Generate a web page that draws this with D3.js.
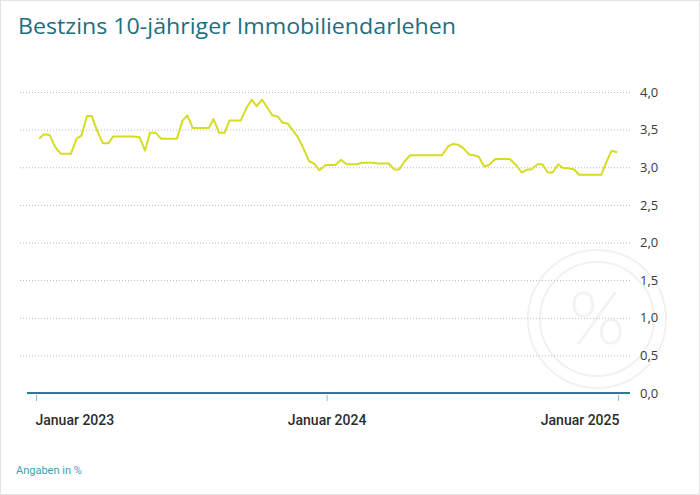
<!DOCTYPE html>
<html><head><meta charset="utf-8">
<script src="https://cdn.jsdelivr.net/npm/d3@7"></script>
<style>body{margin:0;background:#fff}svg{display:block}</style>
</head><body>
<svg id="c" width="700" height="495"></svg>
<script>
const title = "Bestzins 10-jähriger Immobiliendarlehen";
const note = "Angaben in %";
const dates = ["2023-01-05","2023-01-11","2023-01-18","2023-01-25","2023-02-01","2023-02-14","2023-02-21","2023-02-27","2023-03-06","2023-03-12","2023-03-19","2023-03-26","2023-04-02","2023-04-08","2023-05-03","2023-05-11","2023-05-18","2023-05-24","2023-05-31","2023-06-07","2023-06-27","2023-07-04","2023-07-10","2023-07-17","2023-08-06","2023-08-12","2023-08-19","2023-08-26","2023-09-01","2023-09-15","2023-09-22","2023-09-29","2023-10-05","2023-10-12","2023-10-18","2023-10-25","2023-11-01","2023-11-07","2023-11-13","2023-11-19","2023-11-26","2023-12-03","2023-12-10","2023-12-17","2023-12-23","2023-12-31","2024-01-12","2024-01-19","2024-01-26","2024-02-08","2024-02-14","2024-02-28","2024-03-06","2024-03-19","2024-03-26","2024-04-01","2024-04-08","2024-04-15","2024-05-25","2024-06-02","2024-06-08","2024-06-14","2024-06-21","2024-06-28","2024-07-04","2024-07-10","2024-07-17","2024-07-23","2024-07-31","2024-08-18","2024-08-26","2024-09-02","2024-09-09","2024-09-14","2024-09-22","2024-09-28","2024-10-05","2024-10-11","2024-10-18","2024-10-24","2024-10-29","2024-11-07","2024-11-13","2024-12-11","2024-12-17","2024-12-24","2024-12-31"];
const rates = [3.38,3.44,3.43,3.27,3.18,3.18,3.38,3.42,3.68,3.68,3.48,3.32,3.32,3.41,3.41,3.40,3.22,3.46,3.46,3.38,3.38,3.62,3.69,3.52,3.52,3.64,3.46,3.46,3.62,3.62,3.78,3.90,3.81,3.90,3.80,3.69,3.67,3.59,3.58,3.50,3.40,3.25,3.08,3.04,2.96,3.03,3.03,3.10,3.04,3.04,3.06,3.06,3.05,3.05,2.97,2.97,3.08,3.16,3.16,3.28,3.31,3.30,3.25,3.17,3.16,3.14,3.01,3.03,3.11,3.11,3.03,2.93,2.97,2.97,3.04,3.04,2.93,2.93,3.04,2.99,2.99,2.97,2.90,2.90,3.06,3.22,3.20];
const yTicks = [0,0.5,1,1.5,2,2.5,3,3.5,4];
const xTickDates = ["2023-01-01","2024-01-01","2025-01-01"];
const xTickLabels = ["Januar 2023","Januar 2024","Januar 2025"];

const parse = d3.timeParse("%Y-%m-%d");
const data = dates.map((d,i)=>({date:parse(d), v:rates[i]}));
const svg = d3.select("#c");

svg.append("rect").attr("x",0.5).attr("y",0.5).attr("width",699).attr("height",494)
  .attr("fill","#fff").attr("stroke","#e3e3e3");

const x = d3.scaleTime().domain([parse("2023-01-01"), parse("2025-01-01")]).range([36,618]);
const y = d3.scaleLinear().domain([0,4]).range([393,92]);

// watermark
const wm = svg.append("g").attr("transform","translate(597,319)");
wm.append("circle").attr("r",69).attr("fill","none").attr("stroke","#f4f0f0").attr("stroke-width",2);
wm.append("circle").attr("r",57).attr("fill","none").attr("stroke","#f4f0f0").attr("stroke-width",2);
wm.append("text").attr("text-anchor","middle").attr("dy","0.35em")
  .attr("font-family","Lato, sans-serif").attr("font-weight",300).attr("font-size",72).attr("fill","#f2f2f2").text("%");

const t = svg.append("text").attr("x",18).attr("y",34)
  .attr("font-family","'Open Sans', sans-serif").attr("font-size",22)
  .attr("fill","#1d6f80").text(title);
const tl = t.node().getComputedTextLength();
if (Math.abs(tl-438) < 60) t.attr("textLength",438).attr("lengthAdjust","spacingAndGlyphs");

// grid
const grid = svg.append("g");
grid.selectAll("line").data(yTicks.filter(t=>t>0)).join("line")
  .attr("x1",20).attr("x2",630).attr("y1",d=>y(d)+0.5).attr("y2",d=>y(d)+0.5)
  .attr("stroke","#b9b9b9").attr("stroke-width",1).attr("stroke-dasharray","1,2");

// y axis labels
const yAxis = d3.axisRight(y).tickValues(yTicks).tickSize(0).tickPadding(0)
  .tickFormat(d=>d3.format(".1f")(d).replace(".",","));
const gy = svg.append("g").attr("transform","translate(640,0)").call(yAxis);
gy.select(".domain").remove();
gy.selectAll("text").attr("font-family","'Open Sans', sans-serif").attr("font-size",13).attr("fill","#3a3a3a");

// x axis
const gx = svg.append("g").attr("transform","translate(0,393)");
gx.append("line").attr("x1",27).attr("x2",630).attr("y1",0).attr("y2",0)
  .attr("stroke","#2a7d97").attr("stroke-width",2);
const xAxis = d3.axisBottom(x).tickValues(xTickDates.map(parse)).tickSize(8).tickPadding(14)
  .tickFormat((d,i)=>xTickLabels[i]);
const gxa = svg.append("g").attr("transform","translate(0,393)").call(xAxis);
gxa.select(".domain").remove();
gxa.selectAll(".tick line").attr("stroke","#b0b0b0").attr("y1",2);
gxa.selectAll("text").attr("font-family","Roboto, sans-serif").attr("font-weight",500)
  .attr("font-size",14).attr("fill","#2b2b2b")
  .attr("text-anchor",(d,i)=>i===0?"start":(i===2?"end":"middle"))
  .attr("dx",(d,i)=>i===0?-1:(i===2?1:0));

// line
svg.append("path").datum(data)
  .attr("fill","none").attr("stroke","#d6dc24").attr("stroke-width",2).attr("stroke-linejoin","round")
  .attr("d", d3.line().x(d=>x(d.date)).y(d=>y(d.v)));

svg.append("text").attr("x",16).attr("y",474)
  .attr("font-family","Roboto, sans-serif").attr("font-size",11).attr("fill","#3a9fb0").text(note);
</script>
</body></html>
